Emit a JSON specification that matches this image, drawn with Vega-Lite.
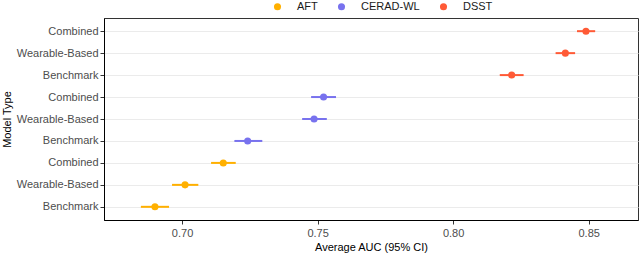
{
  "$schema": "https://vega.github.io/schema/vega-lite/v6.json",
  "width": 534,
  "height": 202,
  "autosize": {"type": "none"},
  "padding": {"left": 104, "top": 18, "right": 2, "bottom": 33},
  "background": "white",
  "config": {
    "font": "Liberation Sans",
    "view": {"stroke": "#333333", "strokeWidth": 1},
    "axis": {
      "domainColor": "#000000",
      "domainWidth": 1,
      "tickColor": "#333333",
      "tickSize": 4,
      "labelFontSize": 11,
      "labelColor": "#4d4d4d",
      "titleFontSize": 11,
      "titleFontWeight": "normal",
      "titleColor": "#000000"
    }
  },
  "data": {
    "values": [
      {"test": "DSST", "model": "Combined", "key": "DSST|Combined", "auc": 0.849, "lo": 0.8457, "hi": 0.8524},
      {"test": "DSST", "model": "Wearable-Based", "key": "DSST|Wearable-Based", "auc": 0.8414, "lo": 0.8378, "hi": 0.845},
      {"test": "DSST", "model": "Benchmark", "key": "DSST|Benchmark", "auc": 0.8216, "lo": 0.8172, "hi": 0.826},
      {"test": "CERAD-WL", "model": "Combined", "key": "CERAD-WL|Combined", "auc": 0.7522, "lo": 0.7476, "hi": 0.7568},
      {"test": "CERAD-WL", "model": "Wearable-Based", "key": "CERAD-WL|Wearable-Based", "auc": 0.7487, "lo": 0.7443, "hi": 0.7534},
      {"test": "CERAD-WL", "model": "Benchmark", "key": "CERAD-WL|Benchmark", "auc": 0.7242, "lo": 0.7193, "hi": 0.7296},
      {"test": "AFT", "model": "Combined", "key": "AFT|Combined", "auc": 0.7152, "lo": 0.7107, "hi": 0.7198},
      {"test": "AFT", "model": "Wearable-Based", "key": "AFT|Wearable-Based", "auc": 0.7011, "lo": 0.6963, "hi": 0.706},
      {"test": "AFT", "model": "Benchmark", "key": "AFT|Benchmark", "auc": 0.69, "lo": 0.6848, "hi": 0.6952}
    ]
  },
  "encoding": {
    "y": {
      "field": "key",
      "type": "nominal",
      "sort": ["DSST|Combined", "DSST|Wearable-Based", "DSST|Benchmark", "CERAD-WL|Combined", "CERAD-WL|Wearable-Based", "CERAD-WL|Benchmark", "AFT|Combined", "AFT|Wearable-Based", "AFT|Benchmark"],
      "scale": {"type": "point", "padding": 0.6},
      "axis": {
        "title": "Model Type",
        "labelExpr": "split(datum.label, '|')[1]",
        "grid": true,
        "gridColor": "#ebebeb",
        "gridWidth": 1,
        "labelPadding": 2,
        "titlePadding": 4
      }
    },
    "color": {
      "field": "test",
      "type": "nominal",
      "scale": {"domain": ["AFT", "CERAD-WL", "DSST"], "range": ["#FFB000", "#7872EE", "#FF5A36"]},
      "legend": {
        "title": null,
        "orient": "none",
        "direction": "horizontal",
        "legendX": 168,
        "legendY": -17,
        "symbolType": "circle",
        "symbolSize": 50,
        "symbolStrokeWidth": 0,
        "labelFontSize": 11,
        "labelColor": "#1a1a1a",
        "labelOffset": 14,
        "columnPadding": 18
      }
    }
  },
  "layer": [
    {
      "mark": {"type": "rule", "strokeWidth": 2},
      "encoding": {
        "x": {
          "field": "lo",
          "type": "quantitative",
          "scale": {"domain": [0.6712, 0.8682], "nice": false, "zero": false},
          "axis": {"title": "Average AUC (95% CI)", "values": [0.7, 0.75, 0.8, 0.85], "format": ".2f", "grid": false, "labelPadding": 3, "titlePadding": 3}
        },
        "x2": {"field": "hi"}
      }
    },
    {
      "mark": {"type": "point", "filled": true, "size": 50, "opacity": 1, "strokeWidth": 0},
      "encoding": {
        "x": {"field": "auc", "type": "quantitative"}
      }
    }
  ]
}
